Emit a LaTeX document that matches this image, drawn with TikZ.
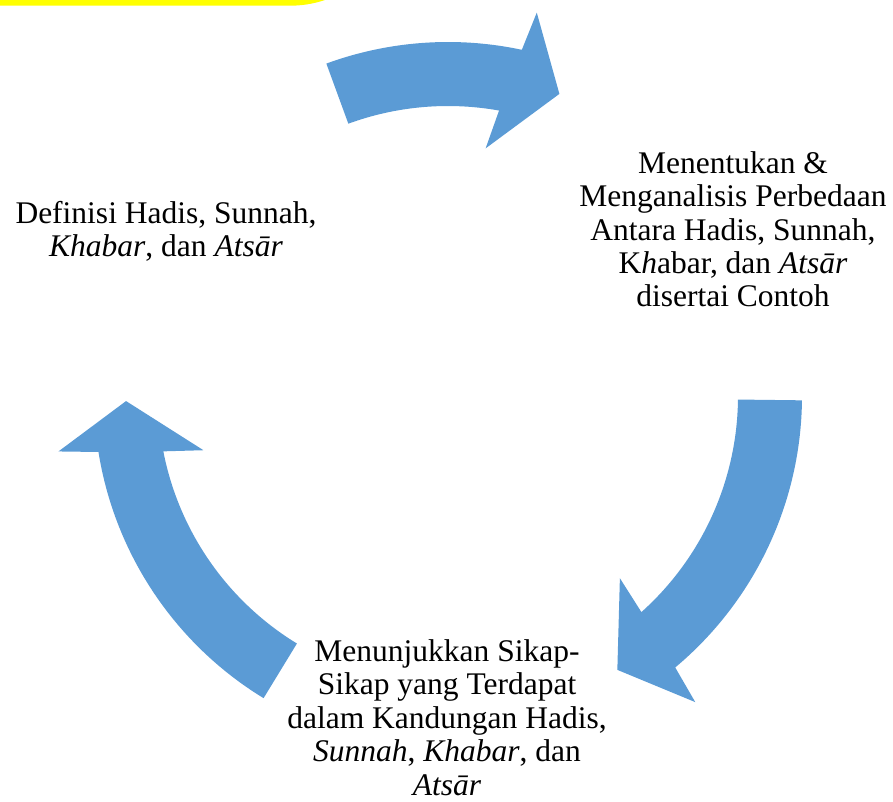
\documentclass[tikz,border=0pt]{standalone}
\usepackage{fontspec}
\setmainfont{Liberation Serif}
\definecolor{cycleblue}{HTML}{5B9BD5}
\definecolor{banner}{HTML}{FFFF00}
\tikzset{
  % multi-line nodes sit on the baseline of their last line
  stagetext/.style={align=center, inner sep=0pt, anchor=base,
    font=\fontsize{31.5}{33.4}\selectfont},
  cyclearrow/.style={fill=cycleblue},
}
% Curved block arrow on the cycle ring: #1 = tail angle, #2 = angle of the
% outer corner where the head starts (angles grow clockwise on the page).
\newcommand\CycleArrow[2]{%
  \pgfmathsetmacro\arrHeadOut{#2+1.0}%
  \pgfmathsetmacro\arrTip{#2+8.2}%
  \pgfmathsetmacro\arrHeadIn{#2-3.4}%
  \pgfmathsetmacro\arrBaseIn{#2-1.9}%
  \fill[cyclearrow] (#1:354) arc[start angle=#1, end angle=#2, radius=354]
    -- (\arrHeadOut:393.5) -- (\arrTip:322) -- (\arrHeadIn:250.5)
    -- (\arrBaseIn:290) arc[start angle=\arrBaseIn, end angle=#1, radius=290]
    -- cycle;%
}
\begin{document}
\begin{tikzpicture}[x=1pt, y=-1pt]
  \useasboundingbox (0,0) rectangle (893,801);
  % yellow banner reaching in from the top left
  \begin{scope}
    \clip (0,0) rectangle (893,801);
    \fill[banner, rounded corners=110pt] (-300,-400) rectangle (400,5.7);
  \end{scope}
  % three arrows around the ring
  \begin{scope}[shift={(448,396)}]
    \CycleArrow{-110.1}{-77.96}
    \CycleArrow{0.7}{50.07}
    \CycleArrow{121.4}{170.9}
  \end{scope}
  % stage texts
  \node[stagetext] (def) at (166,256.7)
    {Definisi Hadis, Sunnah,\\\textit{Khabar}, dan \textit{Atsār}};
  \node[stagetext] (diff) at (733,306.9)
    {Menentukan \&\\Menganalisis Perbedaan\\Antara Hadis, Sunnah,\\K\textit{h}abar, dan \textit{Atsār}\\disertai Contoh};
  \node[stagetext] (attitude) at (447,795)
    {Menunjukkan Sikap-\\Sikap yang Terdapat\\dalam Kandungan Hadis,\\\textit{Sunnah}, \textit{Khabar}, dan\\\textit{Atsār}};
\end{tikzpicture}
\end{document}
